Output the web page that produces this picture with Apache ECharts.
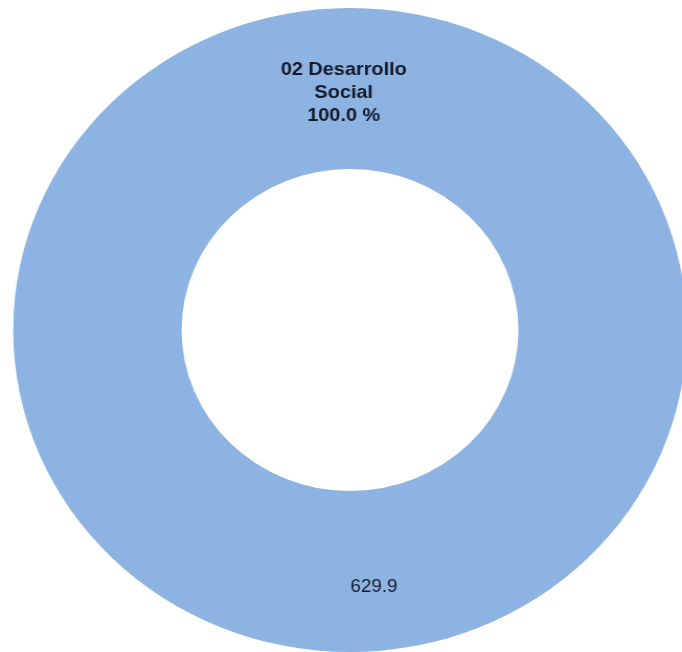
<!DOCTYPE html>
<html>
<head>
<meta charset="utf-8">
<script src="https://cdn.jsdelivr.net/npm/echarts@6/dist/echarts.min.js"></script>
<style>
html,body{margin:0;padding:0;background:#fff;overflow:hidden;}
#c{width:652px;height:652px;transform:scaleX(1.046);transform-origin:0 0;}
</style>
</head>
<body>
<div id="c"></div>
<script>
const categories = ['02 Desarrollo Social'];
const values = [629.9];

const data = categories.map((n, i) => ({ name: n, value: values[i] }));
const chart = echarts.init(document.getElementById('c'), null, { renderer: 'canvas' });
const center = [334.6, 330];
const radius = [161, 322];
chart.setOption({
  animation: false,
  backgroundColor: '#ffffff',
  series: [
    {
      type: 'pie',
      center: center,
      radius: radius,
      startAngle: 90,
      silent: true,
      data: data,
      itemStyle: { color: '#8DB3E2' },
      label: {
        position: 'inside',
        formatter: p => p.value.toFixed(1),
        fontFamily: 'Liberation Sans, Arial, sans-serif',
        fontSize: 18,
        color: '#141a2a',
        offset: [23, 13]
      },
      labelLine: { show: false }
    },
    {
      type: 'pie',
      center: center,
      radius: radius,
      startAngle: -90,
      silent: true,
      data: data,
      itemStyle: { color: 'rgba(0,0,0,0)' },
      label: {
        position: 'inside',
        formatter: p => p.name.replace(/ (\S+)$/, '\n$1') + '\n' + p.percent.toFixed(1) + ' %',
        fontFamily: 'Liberation Sans, Arial, sans-serif',
        fontSize: 19,
        fontWeight: 'bold',
        lineHeight: 23,
        align: 'center',
        color: '#141a2a',
        offset: [-6, 7]
      },
      labelLine: { show: false }
    }
  ]
});
</script>
</body>
</html>
